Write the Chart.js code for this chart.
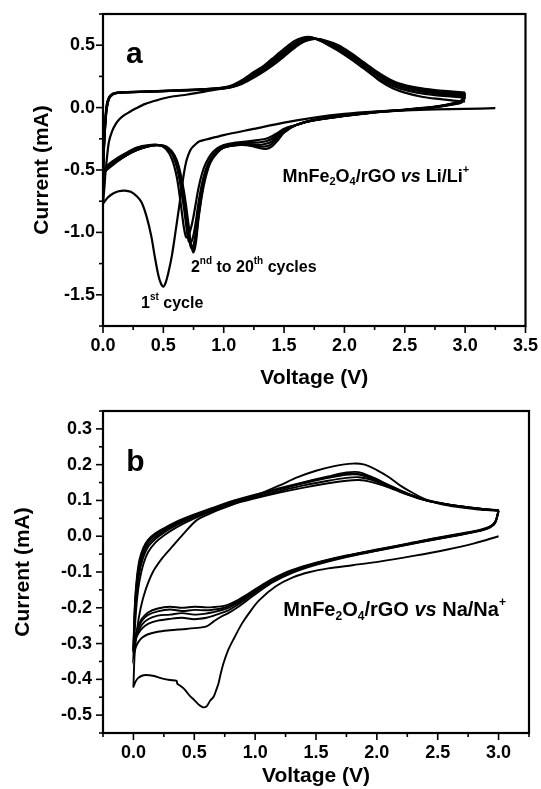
<!DOCTYPE html>
<html><head><meta charset="utf-8">
<script src="https://cdn.jsdelivr.net/npm/chart.js@4.4.1/dist/chart.umd.min.js"></script>
<style>
html,body{margin:0;padding:0;background:#fff;overflow:hidden;width:541px;height:789px}
#ca{position:absolute;left:0;top:0}
#cb{position:absolute;left:0;top:395px}
</style></head><body>
<canvas id="ca" width="541" height="395"></canvas>
<canvas id="cb" width="541" height="394"></canvas>
<script>
// ---------------- Panel a : MnFe2O4/rGO vs Li/Li+ ----------------
// 1st cycle, cathodic scan (OCV -> 0 V)
const aVCath1 = [3.25, 3.0, 2.75, 2.5, 2.25, 2.0, 1.75, 1.5, 1.25, 1.0, 0.9, 0.8, 0.76, 0.73, 0.71, 0.69, 0.67, 0.65, 0.63, 0.6, 0.57, 0.54, 0.52, 0.50, 0.48, 0.46, 0.43, 0.40, 0.36, 0.32, 0.28, 0.23, 0.18, 0.13, 0.08, 0.04, 0.0];
const aICath1 = [-0.005, -0.01, -0.015, -0.022, -0.032, -0.05, -0.08, -0.12, -0.17, -0.22, -0.245, -0.27, -0.30, -0.33, -0.37, -0.43, -0.53, -0.66, -0.8, -1.0, -1.19, -1.33, -1.40, -1.435, -1.41, -1.35, -1.2, -1.03, -0.87, -0.76, -0.71, -0.675, -0.665, -0.67, -0.69, -0.72, -0.77];
// 1st cycle, anodic scan (0 -> 3 V)
const aVAnod1 = [0.0, 0.01, 0.02, 0.035, 0.05, 0.075, 0.1, 0.13, 0.17, 0.22, 0.27, 0.35, 0.45, 0.55, 0.7, 0.85, 1.0, 1.1, 1.2, 1.3, 1.4, 1.5, 1.58, 1.65, 1.72, 1.8, 1.9, 2.0, 2.1, 2.2, 2.3, 2.4, 2.5, 2.65, 2.8, 2.95, 3.0];
const aIAnod1 = [-0.77, -0.66, -0.53, -0.38, -0.27, -0.19, -0.14, -0.10, -0.065, -0.035, -0.008, 0.03, 0.06, 0.085, 0.105, 0.13, 0.155, 0.18, 0.24, 0.31, 0.39, 0.47, 0.53, 0.56, 0.565, 0.535, 0.49, 0.43, 0.37, 0.29, 0.21, 0.155, 0.12, 0.085, 0.068, 0.052, 0.05];
// 2nd-20th cycles: shared voltage grids
const aVCath = [3.0, 2.97, 2.9, 2.75, 2.5, 2.2, 1.9, 1.7, 1.6, 1.5, 1.45, 1.4, 1.35, 1.28, 1.2, 1.1, 1.0, 0.94, 0.89, 0.85, 0.82, 0.79, 0.77, 0.75, 0.73, 0.71, 0.69, 0.67, 0.64, 0.61, 0.57, 0.52, 0.46, 0.38, 0.28, 0.18, 0.08, 0.02, 0.0];
const aVAnod = [0.0, 0.005, 0.015, 0.03, 0.05, 0.08, 0.12, 0.2, 0.4, 0.6, 0.8, 0.95, 1.05, 1.15, 1.25, 1.35, 1.45, 1.55, 1.63, 1.70, 1.77, 1.85, 1.95, 2.05, 2.15, 2.25, 2.35, 2.45, 2.6, 2.75, 2.9, 3.0];
const aICath2  = [0.08, 0.04, 0.025, 0.003, -0.02, -0.045, -0.08, -0.11, -0.14, -0.17, -0.20, -0.23, -0.25, -0.26, -0.27, -0.28, -0.30, -0.33, -0.38, -0.45, -0.53, -0.65, -0.76, -0.87, -0.96, -1.02, -1.04, -0.96, -0.74, -0.55, -0.41, -0.33, -0.30, -0.30, -0.32, -0.37, -0.43, -0.48, -0.51];
const aIAnod2  = [-0.51, -0.36, -0.16, 0.02, 0.083, 0.111, 0.12, 0.125, 0.131, 0.138, 0.146, 0.156, 0.172, 0.22, 0.285, 0.345, 0.415, 0.49, 0.54, 0.56, 0.55, 0.51, 0.455, 0.39, 0.32, 0.25, 0.195, 0.155, 0.12, 0.10, 0.088, 0.08];
const aICath5  = [0.09, 0.045, 0.028, 0.004, -0.019, -0.044, -0.08, -0.11, -0.14, -0.175, -0.21, -0.25, -0.27, -0.28, -0.28, -0.29, -0.31, -0.35, -0.41, -0.50, -0.61, -0.77, -0.91, -1.02, -1.08, -1.07, -0.95, -0.80, -0.61, -0.47, -0.37, -0.32, -0.30, -0.305, -0.33, -0.38, -0.44, -0.49, -0.52];
const aIAnod5  = [-0.52, -0.37, -0.17, 0.01, 0.08, 0.11, 0.119, 0.124, 0.13, 0.137, 0.145, 0.154, 0.168, 0.21, 0.27, 0.33, 0.40, 0.48, 0.53, 0.555, 0.55, 0.52, 0.47, 0.41, 0.34, 0.27, 0.21, 0.17, 0.135, 0.113, 0.10, 0.09];
const aICath10 = [0.10, 0.05, 0.03, 0.005, -0.018, -0.043, -0.078, -0.11, -0.14, -0.18, -0.22, -0.27, -0.29, -0.30, -0.29, -0.30, -0.32, -0.36, -0.42, -0.52, -0.65, -0.84, -0.99, -1.10, -1.12, -1.03, -0.88, -0.74, -0.57, -0.45, -0.36, -0.32, -0.30, -0.31, -0.34, -0.39, -0.45, -0.50, -0.53];
const aIAnod10 = [-0.53, -0.38, -0.18, 0.0, 0.078, 0.108, 0.118, 0.123, 0.129, 0.136, 0.144, 0.152, 0.165, 0.20, 0.26, 0.32, 0.39, 0.47, 0.52, 0.55, 0.55, 0.525, 0.48, 0.42, 0.35, 0.28, 0.22, 0.178, 0.142, 0.122, 0.108, 0.10];
const aICath15 = [0.11, 0.055, 0.032, 0.006, -0.017, -0.042, -0.077, -0.11, -0.14, -0.19, -0.24, -0.29, -0.31, -0.31, -0.30, -0.30, -0.32, -0.36, -0.43, -0.54, -0.68, -0.88, -1.04, -1.13, -1.12, -0.99, -0.84, -0.70, -0.54, -0.43, -0.355, -0.315, -0.30, -0.31, -0.34, -0.39, -0.45, -0.50, -0.54];
const aIAnod15 = [-0.54, -0.39, -0.19, -0.01, 0.075, 0.107, 0.118, 0.122, 0.128, 0.135, 0.143, 0.151, 0.162, 0.195, 0.25, 0.31, 0.38, 0.46, 0.515, 0.545, 0.55, 0.53, 0.49, 0.43, 0.36, 0.29, 0.23, 0.185, 0.15, 0.13, 0.118, 0.11];
const aICath20 = [0.12, 0.06, 0.035, 0.008, -0.015, -0.04, -0.075, -0.11, -0.14, -0.2, -0.26, -0.31, -0.33, -0.32, -0.30, -0.30, -0.32, -0.37, -0.44, -0.56, -0.70, -0.90, -1.08, -1.16, -1.10, -0.95, -0.80, -0.67, -0.52, -0.42, -0.35, -0.31, -0.30, -0.31, -0.34, -0.39, -0.46, -0.51, -0.55];
const aIAnod20 = [-0.55, -0.40, -0.20, -0.02, 0.07, 0.105, 0.118, 0.122, 0.128, 0.135, 0.142, 0.15, 0.16, 0.19, 0.24, 0.30, 0.37, 0.45, 0.51, 0.54, 0.55, 0.535, 0.50, 0.44, 0.37, 0.30, 0.24, 0.195, 0.16, 0.14, 0.128, 0.12];

// ---------------- Panel b : MnFe2O4/rGO vs Na/Na+ ----------------
const bVCath1 = [3.0, 2.8, 2.58, 2.3, 2.02, 1.8, 1.6, 1.45, 1.31, 1.17, 1.03, 0.95, 0.89, 0.83, 0.78, 0.74, 0.72, 0.70, 0.68, 0.66, 0.63, 0.60, 0.57, 0.54, 0.5, 0.46, 0.42, 0.385, 0.36, 0.355, 0.3, 0.24, 0.16, 0.1, 0.07, 0.04, 0.02, 0.0];
const bICath1 = [0.0, -0.02, -0.037, -0.055, -0.071, -0.081, -0.09, -0.1, -0.115, -0.14, -0.18, -0.215, -0.245, -0.283, -0.317, -0.355, -0.38, -0.41, -0.43, -0.448, -0.46, -0.476, -0.478, -0.472, -0.458, -0.445, -0.428, -0.418, -0.412, -0.404, -0.402, -0.398, -0.39, -0.388, -0.39, -0.396, -0.405, -0.421];
const bVAnod1 = [0.0, 0.01, 0.03, 0.06, 0.1, 0.16, 0.24, 0.33, 0.42, 0.52, 0.62, 0.75, 0.9, 1.05, 1.2, 1.35, 1.5, 1.65, 1.8, 1.9, 2.0, 2.1, 2.2, 2.3, 2.4, 2.5, 2.6, 2.7, 2.8, 2.9, 3.0];
const bIAnod1 = [-0.42, -0.33, -0.26, -0.20, -0.15, -0.10, -0.06, -0.025, 0.01, 0.045, 0.062, 0.08, 0.10, 0.12, 0.142, 0.165, 0.183, 0.196, 0.203, 0.2, 0.185, 0.165, 0.14, 0.12, 0.103, 0.092, 0.085, 0.08, 0.076, 0.073, 0.072];
const bVCath = [3.0, 2.97, 2.9, 2.75, 2.5, 2.25, 2.0, 1.75, 1.5, 1.3, 1.15, 1.03, 0.93, 0.85, 0.78, 0.72, 0.66, 0.6, 0.5, 0.4, 0.3, 0.2, 0.12, 0.07, 0.04, 0.02, 0.01, 0.0];
const bVAnod = [0.0, 0.005, 0.015, 0.03, 0.05, 0.08, 0.12, 0.18, 0.25, 0.35, 0.5, 0.65, 0.8, 1.0, 1.2, 1.4, 1.6, 1.75, 1.85, 1.95, 2.1, 2.25, 2.4, 2.55, 2.7, 2.85, 3.0];
const bICath2  = [0.07, 0.036, 0.02, 0.008, -0.008, -0.024, -0.041, -0.058, -0.08, -0.103, -0.128, -0.155, -0.18, -0.2, -0.215, -0.225, -0.238, -0.252, -0.257, -0.26, -0.263, -0.267, -0.274, -0.284, -0.296, -0.31, -0.322, -0.335];
const bIAnod2  = [-0.335, -0.3, -0.24, -0.175, -0.125, -0.08, -0.045, -0.018, 0.002, 0.024, 0.05, 0.07, 0.088, 0.106, 0.122, 0.136, 0.148, 0.155, 0.157, 0.152, 0.136, 0.116, 0.1, 0.09, 0.082, 0.076, 0.072];
const bICath3  = [0.07, 0.037, 0.021, 0.009, -0.007, -0.023, -0.04, -0.057, -0.078, -0.1, -0.124, -0.15, -0.174, -0.193, -0.207, -0.215, -0.222, -0.228, -0.232, -0.228, -0.231, -0.236, -0.245, -0.258, -0.272, -0.288, -0.303, -0.325];
const bIAnod3  = [-0.325, -0.28, -0.21, -0.15, -0.1, -0.06, -0.03, -0.008, 0.01, 0.03, 0.054, 0.073, 0.091, 0.109, 0.126, 0.142, 0.155, 0.163, 0.165, 0.158, 0.139, 0.118, 0.101, 0.091, 0.083, 0.077, 0.072];
const bICath5  = [0.071, 0.038, 0.021, 0.009, -0.006, -0.022, -0.039, -0.056, -0.077, -0.099, -0.122, -0.147, -0.17, -0.188, -0.2, -0.207, -0.212, -0.216, -0.219, -0.215, -0.219, -0.222, -0.232, -0.247, -0.265, -0.283, -0.3, -0.322];
const bIAnod5  = [-0.322, -0.27, -0.195, -0.135, -0.088, -0.05, -0.022, -0.002, 0.015, 0.034, 0.057, 0.075, 0.093, 0.113, 0.131, 0.148, 0.163, 0.172, 0.172, 0.162, 0.14, 0.118, 0.101, 0.09, 0.082, 0.076, 0.071];
const bICath10 = [0.072, 0.039, 0.022, 0.01, -0.005, -0.022, -0.038, -0.055, -0.075, -0.097, -0.12, -0.145, -0.167, -0.184, -0.196, -0.202, -0.205, -0.207, -0.206, -0.209, -0.205, -0.21, -0.22, -0.236, -0.256, -0.278, -0.298, -0.32];
const bIAnod10 = [-0.32, -0.26, -0.18, -0.12, -0.075, -0.04, -0.015, 0.004, 0.019, 0.037, 0.059, 0.077, 0.095, 0.114, 0.132, 0.15, 0.165, 0.175, 0.174, 0.164, 0.141, 0.119, 0.101, 0.09, 0.083, 0.077, 0.072];
const bICath20 = [0.073, 0.04, 0.023, 0.011, -0.004, -0.021, -0.037, -0.054, -0.074, -0.095, -0.118, -0.142, -0.164, -0.18, -0.191, -0.196, -0.198, -0.199, -0.197, -0.2, -0.197, -0.202, -0.213, -0.23, -0.252, -0.275, -0.296, -0.318];
const bIAnod20 = [-0.318, -0.25, -0.17, -0.11, -0.065, -0.033, -0.01, 0.008, 0.022, 0.04, 0.061, 0.079, 0.097, 0.116, 0.134, 0.151, 0.167, 0.178, 0.179, 0.167, 0.143, 0.12, 0.102, 0.091, 0.083, 0.077, 0.073];

// axis tick steps
const aXTicks = {min: 0, max: 3.5, step: 0.25, major: 0.5};
const aYTicks = {min: -1.75, max: 0.75, step: 0.25, major: 0.5};
const bXTicks = {min: -0.25, max: 3.25, step: 0.25, major: 0.5};
const bYTicks = {min: -0.55, max: 0.35, step: 0.05, major: 0.1};

const FONT = '"Liberation Sans", Arial, Helvetica, sans-serif';

function zip(vs, is) { return vs.map((v, k) => ({x: v, y: is[k]})); }
function loop(cv, ci, av, ai) { return zip(cv, ci).concat(zip(av, ai)); }
function isMajor(v, step) { const r = v / step; return Math.abs(r - Math.round(r)) < 1e-6; }
function fmt(v) { if (Math.abs(v) < 1e-9) v = 0; return v.toFixed(1); }

const frameTicks = {
  id: 'frameTicks',
  afterDraw(chart, args, o) {
    const {ctx, chartArea: a} = chart;
    const xs = chart.scales.x, ys = chart.scales.y;
    ctx.save();
    ctx.strokeStyle = '#000';
    ctx.lineWidth = 1.6;
    xs.ticks.forEach(t => {
      const px = xs.getPixelForValue(t.value);
      const len = isMajor(t.value, o.xMajor) ? 7 : 4;
      ctx.beginPath(); ctx.moveTo(px, a.bottom); ctx.lineTo(px, a.bottom + len); ctx.stroke();
    });
    ys.ticks.forEach(t => {
      const py = ys.getPixelForValue(t.value);
      const len = isMajor(t.value, o.yMajor) ? 7 : 4;
      ctx.beginPath(); ctx.moveTo(a.left, py); ctx.lineTo(a.left - len, py); ctx.stroke();
    });
    ctx.lineWidth = 2.2;
    ctx.strokeRect(a.left, a.top, a.right - a.left, a.bottom - a.top);
    ctx.restore();
  }
};

const notes = {
  id: 'notes',
  afterDraw(chart, args, o) {
    const {ctx} = chart;
    const xs = chart.scales.x, ys = chart.scales.y;
    ctx.save();
    ctx.fillStyle = '#000';
    ctx.textBaseline = 'middle';
    ctx.textAlign = 'left';
    o.items.forEach(it => {
      let cx = xs.getPixelForValue(it.x);
      const cy = ys.getPixelForValue(it.y);
      it.segs.forEach(s => {
        const small = s.sub || s.sup;
        const fs = small ? Math.round(it.size * 0.6) : it.size;
        ctx.font = (s.it ? 'italic ' : '') + 'bold ' + fs + 'px ' + (it.family || FONT);
        const dy = s.sub ? it.size * 0.3 : (s.sup ? -it.size * 0.38 : 0);
        ctx.fillText(s.t, cx, cy + dy);
        cx += ctx.measureText(s.t).width;
      });
    });
    ctx.restore();
  }
};

function ds(points, w) {
  return {data: points, showLine: true, borderColor: '#000', borderWidth: w, pointRadius: 0, tension: 0.3, fill: false};
}

function axis(t, title, titlePad, afterFit, pad) {
  return {
    type: 'linear', min: t.min, max: t.max, afterFit: afterFit,
    grid: {display: false, drawTicks: true, tickLength: 6},
    border: {display: false},
    ticks: {stepSize: t.step, autoSkip: false, maxRotation: 0, padding: pad, color: '#000',
            font: {family: FONT, size: 18, weight: 'bold'},
            callback: v => isMajor(v, t.major) ? fmt(v) : ''},
    title: {display: true, text: title, color: '#000', font: {family: FONT, size: 21, weight: 'bold'}, padding: titlePad}
  };
}

const aData = [
  loop(aVCath1, aICath1, aVAnod1, aIAnod1),
  loop(aVCath, aICath2, aVAnod, aIAnod2),
  loop(aVCath, aICath5, aVAnod, aIAnod5),
  loop(aVCath, aICath10, aVAnod, aIAnod10),
  loop(aVCath, aICath15, aVAnod, aIAnod15),
  loop(aVCath, aICath20, aVAnod, aIAnod20)
];
const bData = [
  loop(bVCath1, bICath1, bVAnod1, bIAnod1),
  loop(bVCath, bICath2, bVAnod, bIAnod2),
  loop(bVCath, bICath3, bVAnod, bIAnod3),
  loop(bVCath, bICath5, bVAnod, bIAnod5),
  loop(bVCath, bICath10, bVAnod, bIAnod10),
  loop(bVCath, bICath20, bVAnod, bIAnod20)
];

new Chart(document.getElementById('ca'), {
  type: 'scatter',
  data: {datasets: aData.map(p => ds(p, 2.2))},
  plugins: [frameTicks, notes],
  options: {
    responsive: false, animation: false,
    layout: {padding: {left: 0, right: 14, top: 14, bottom: 0}},
    plugins: {
      legend: {display: false}, tooltip: {enabled: false},
      frameTicks: {xMajor: 0.5, yMajor: 0.5},
      notes: {items: [
        {x: 0.19, y: 0.42, size: 30, segs: [{t: 'a'}]},
        {x: 1.487, y: -0.556, size: 18, segs: [{t: 'MnFe'}, {t: '2', sub: true}, {t: 'O'}, {t: '4', sub: true}, {t: '/rGO '}, {t: 'vs', it: true}, {t: ' Li/Li'}, {t: '+', sup: true}]},
        {x: 0.728, y: -1.278, size: 16, segs: [{t: '2'}, {t: 'nd', sup: true}, {t: ' to 20'}, {t: 'th', sup: true}, {t: ' cycles'}]},
        {x: 0.315, y: -1.567, size: 16, segs: [{t: '1'}, {t: 'st', sup: true}, {t: ' cycle'}]}
      ]}
    },
    scales: {
      x: axis(aXTicks, 'Voltage (V)', {top: 0, bottom: 4}, s => { s.height = 69; }, 3),
      y: axis(aYTicks, 'Current (mA)', {top: 30, bottom: 0}, s => { s.width = 103; }, 2)
    }
  }
});

new Chart(document.getElementById('cb'), {
  type: 'scatter',
  data: {datasets: bData.map(p => ds(p, 1.9))},
  plugins: [frameTicks, notes],
  options: {
    responsive: false, animation: false,
    layout: {padding: {left: 0, right: 12, top: 16, bottom: 0}},
    plugins: {
      legend: {display: false}, tooltip: {enabled: false},
      frameTicks: {xMajor: 0.5, yMajor: 0.1},
      notes: {items: [
        {x: -0.058, y: 0.205, size: 30, segs: [{t: 'b'}]},
        {x: 1.231, y: -0.208, size: 20, segs: [{t: 'MnFe'}, {t: '2', sub: true}, {t: 'O'}, {t: '4', sub: true}, {t: '/rGO '}, {t: 'vs', it: true}, {t: ' Na/Na'}, {t: '+', sup: true}]}
      ]}
    },
    scales: {
      x: axis(bXTicks, 'Voltage (V)', {top: 0, bottom: 0}, s => { s.height = 56; }, 3),
      y: axis(bYTicks, 'Current (mA)', {top: 11, bottom: 0}, s => { s.width = 103; }, 5)
    }
  }
});
</script></body></html>
